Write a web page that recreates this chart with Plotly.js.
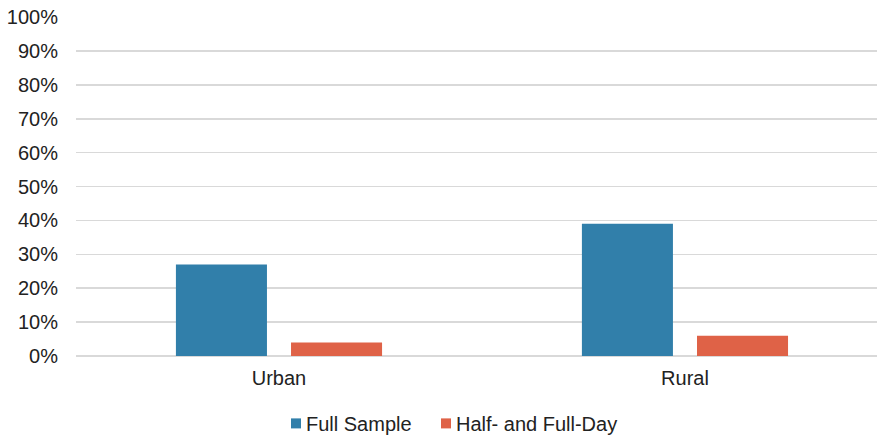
<!DOCTYPE html>
<html>
<head>
<meta charset="utf-8">
<script src="https://cdn.plot.ly/plotly-3.0.1.min.js"></script>
<style>html,body{margin:0;padding:0;background:#fff;}#chart{width:877px;height:435px;}</style>
</head>
<body>
<div id="chart"></div>
<script>
var categories = ['Urban', 'Rural'];
var seriesNames = ['Full Sample', 'Half- and Full-Day'];
var fullSample = [27, 39];
var halfFullDay = [4, 6];
var yTicks = [0, 10, 20, 30, 40, 50, 60, 70, 80, 90, 100];
var colors = ['#317FAA', '#DF6247'];

var font = 'Arial, "Liberation Sans", sans-serif';
var fs = 20;
var traces = [
  {type: 'bar', name: seriesNames[0], x: categories, y: fullSample, marker: {color: colors[0]}, showlegend: false, hoverinfo: 'none'},
  {type: 'bar', name: seriesNames[1], x: categories, y: halfFullDay, marker: {color: colors[1]}, showlegend: false, hoverinfo: 'none'}
];

var legendShapes = [], legendAnn = [];
var legendX = [291, 441];
for (var i = 0; i < seriesNames.length; i++) {
  legendShapes.push({type: 'rect', xref: 'paper', yref: 'paper', layer: 'above',
    x0: (legendX[i] - 76) / 801, x1: (legendX[i] + 10 - 76) / 801,
    y0: -(428 - 355.7) / 338.5, y1: -(418 - 355.7) / 338.5,
    fillcolor: colors[i], line: {width: 0}});
  legendAnn.push({xref: 'paper', yref: 'paper', x: (legendX[i] + 13 - 76) / 801, xanchor: 'left',
    y: -(424 - 355.7) / 338.5, yanchor: 'middle', showarrow: false, text: seriesNames[i],
    font: {family: font, size: fs, color: '#222'}});
}

var layout = {
  width: 877, height: 435,
  margin: {l: 76, r: 0, t: 17, b: 79.3, pad: 0},
  paper_bgcolor: '#fff', plot_bgcolor: '#fff',
  barmode: 'group', bargap: 0.433, bargroupgap: 0.209,
  font: {family: font, size: fs, color: '#222'},
  showlegend: false,
  xaxis: {type: 'category', range: [-0.5, 1.473], showgrid: false, zeroline: false, showline: false,
    ticks: '', tickfont: {family: font, size: fs, color: '#222'}, ticklabelstandoff: 8, fixedrange: true},
  yaxis: {range: [0, 100], tickvals: yTicks, ticktext: yTicks.map(function(v){return v + '%';}),
    showgrid: true, gridcolor: '#d9d9d9', gridwidth: 1.6, zeroline: true, zerolinecolor: '#d9d9d9', zerolinewidth: 1.6,
    showline: false, ticks: '', tickfont: {family: font, size: fs, color: '#222'}, ticklabelstandoff: 17, fixedrange: true},
  shapes: legendShapes,
  annotations: legendAnn
};
Plotly.newPlot('chart', traces, layout, {staticPlot: true, displayModeBar: false});
</script>
</body>
</html>
